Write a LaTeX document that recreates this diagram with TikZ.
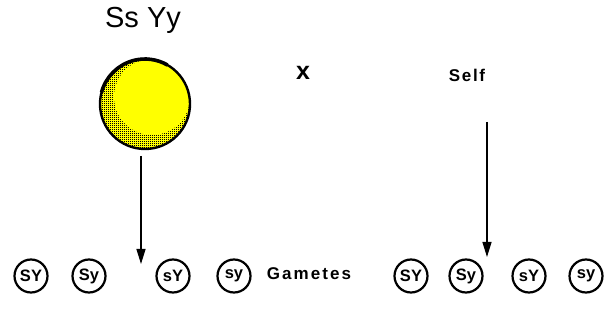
\documentclass[tikz,border=0pt]{standalone}
\usepackage{fontspec}
\setmainfont{Liberation Sans}
\usetikzlibrary{patterns,arrows.meta,calc}
\definecolor{ballyellow}{RGB}{255,255,0}
\pgfdeclarepatternformonly{dith}{\pgfpointorigin}{\pgfpoint{2pt}{2pt}}{\pgfpoint{2pt}{2pt}}{%
  \pgfpathrectangle{\pgfpointorigin}{\pgfpoint{1.3pt}{1.3pt}}\pgfusepath{fill}}
\begin{document}
\begin{tikzpicture}[x=1pt,y=-1pt,
  gam/.style={circle,draw,line width=2.2pt,minimum size=33pt,inner sep=0pt,font=\bfseries\fontsize{16.5}{16.5}\selectfont},
  lbl/.style={inner sep=0pt,font=\bfseries\fontsize{17}{17}\selectfont},
  arr/.style={line width=1.3pt,-{Triangle[length=15pt,width=9pt]}}]
\useasboundingbox (0,0) rectangle (608,320);
% title
\node[inner sep=0pt,font=\fontsize{29}{29}\selectfont] (title) at (143,20) {Ss Yy};
% sphere
\coordinate (c) at (145,104);
\begin{scope}
  \clip (c) circle (45);
  \fill[ballyellow] (c) circle (45);
  \fill[pattern=dith,pattern color=black] (c) circle (45);
  \fill[ballyellow] ($(c)+(7,-7)$) circle (38);
\end{scope}
\draw[line width=2.4pt] (c) circle (45);
\draw[line width=3.6pt] ($(c)+(195:45)$) arc (195:300:45);
\node[circle,minimum size=90pt,inner sep=0pt] (ball) at (c) {};
% x and self
\node[lbl,font=\bfseries\fontsize{25}{25}\selectfont] (cross) at (303,73) {x};
\node[lbl] (self) at (467,75) {\addfontfeature{LetterSpace=10}Self};
% gametes
\node[gam] (g1) at (31,276) {SY};
\node[gam] (g2) at (89,276) {Sy};
\node[gam] (g3) at (173,276) {sY};
\node[gam] (g4) at (234,276) {sy};
\node[lbl] (gtxt) at (309,274) {\addfontfeature{LetterSpace=12}Gametes};
\node[gam] (h1) at (411,276) {SY};
\node[gam] (h2) at (466,276) {Sy};
\node[gam] (h3) at (529,276) {sY};
\node[gam] (h4) at (586,276) {sy};
% arrows
\coordinate (a1s) at (141,156);
\coordinate (a1e) at (141,264);
\draw[arr] (a1s) -- (a1e);
\coordinate (a2s) at (487,122);
\coordinate (a2e) at (487,257);
\draw[arr] (a2s) -- (a2e);
\end{tikzpicture}
\end{document}
